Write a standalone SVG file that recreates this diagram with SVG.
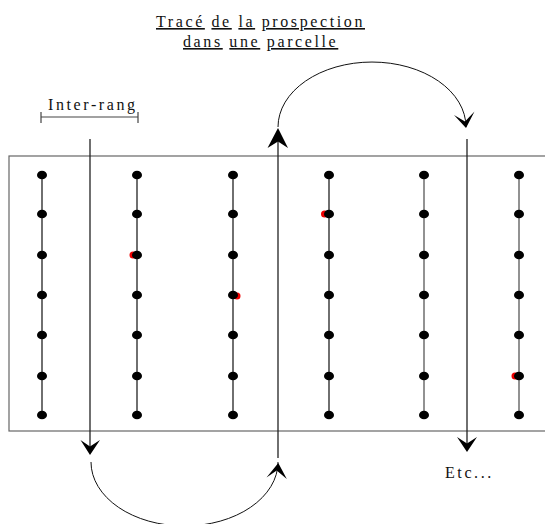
<svg xmlns="http://www.w3.org/2000/svg" width="545" height="524" viewBox="0 0 545 524">
<style>
.t{font-family:"Liberation Serif","Times New Roman",serif;font-size:16px;letter-spacing:2.6px;fill:#111}
.u{text-decoration:underline}
.row{stroke:#222;stroke-width:1.3}
.rowg{stroke:#777;stroke-width:1.6}
.dot{fill:#000}
.red{fill:#e00}
.ln{stroke:#222;stroke-width:1.3;fill:none}
.arc{stroke:#111;stroke-width:1;fill:none}
.ah{fill:#000}
</style>
<rect width="545" height="524" fill="#fff"/>
<g id="title">
<text class="t" x="156" y="27"><tspan class="u">Tracé</tspan> <tspan class="u">de</tspan> <tspan class="u">la</tspan> <tspan class="u">prospection</tspan></text>
<text class="t" x="183" y="47"><tspan class="u">dans</tspan> <tspan class="u">une</tspan> <tspan class="u">parcelle</tspan></text>
</g>
<g id="inter-rang">
<text class="t" x="48" y="110">Inter-rang</text>
<path d="M41,117H138M41,112V123M138,112V123" stroke="#444" stroke-width="1.2" fill="none"/>
</g>
<g id="parcelle">
<rect x="9" y="156" width="545" height="275" fill="none" stroke="#666" stroke-width="1.2"/>
</g>
<g id="rows">
<line class="row" x1="42" y1="175" x2="42" y2="415"/>
<line class="row" x1="137" y1="175" x2="137" y2="415"/>
<line class="row" x1="233" y1="175" x2="233" y2="415"/>
<line class="row" x1="329" y1="175" x2="329" y2="415"/>
<line class="rowg" x1="424" y1="175" x2="424" y2="415"/>
<line class="rowg" x1="519" y1="175" x2="519" y2="415"/>
<ellipse class="red" cx="133" cy="255" rx="3.5" ry="3.5"/>
<ellipse class="red" cx="237" cy="296" rx="3.5" ry="3.5"/>
<ellipse class="red" cx="324.5" cy="214" rx="3.5" ry="3.5"/>
<ellipse class="red" cx="515" cy="376" rx="3.5" ry="3.5"/>
<g class="dot">
<ellipse cx="42" cy="175" rx="5" ry="4.3"/><ellipse cx="42" cy="214" rx="5" ry="4.3"/><ellipse cx="42" cy="255" rx="5" ry="4.3"/><ellipse cx="42" cy="295" rx="5" ry="4.3"/><ellipse cx="42" cy="335" rx="5" ry="4.3"/><ellipse cx="42" cy="376" rx="5" ry="4.3"/><ellipse cx="42" cy="415" rx="5" ry="4.3"/>
<ellipse cx="137" cy="175" rx="5" ry="4.3"/><ellipse cx="137" cy="214" rx="5" ry="4.3"/><ellipse cx="137" cy="255" rx="5" ry="4.3"/><ellipse cx="137" cy="295" rx="5" ry="4.3"/><ellipse cx="137" cy="335" rx="5" ry="4.3"/><ellipse cx="137" cy="376" rx="5" ry="4.3"/><ellipse cx="137" cy="415" rx="5" ry="4.3"/>
<ellipse cx="233" cy="175" rx="5" ry="4.3"/><ellipse cx="233" cy="214" rx="5" ry="4.3"/><ellipse cx="233" cy="255" rx="5" ry="4.3"/><ellipse cx="233" cy="295" rx="5" ry="4.3"/><ellipse cx="233" cy="335" rx="5" ry="4.3"/><ellipse cx="233" cy="376" rx="5" ry="4.3"/><ellipse cx="233" cy="415" rx="5" ry="4.3"/>
<ellipse cx="329" cy="175" rx="5" ry="4.3"/><ellipse cx="329" cy="214" rx="5" ry="4.3"/><ellipse cx="329" cy="255" rx="5" ry="4.3"/><ellipse cx="329" cy="295" rx="5" ry="4.3"/><ellipse cx="329" cy="335" rx="5" ry="4.3"/><ellipse cx="329" cy="376" rx="5" ry="4.3"/><ellipse cx="329" cy="415" rx="5" ry="4.3"/>
<ellipse cx="424" cy="175" rx="5" ry="4.3"/><ellipse cx="424" cy="214" rx="5" ry="4.3"/><ellipse cx="424" cy="255" rx="5" ry="4.3"/><ellipse cx="424" cy="295" rx="5" ry="4.3"/><ellipse cx="424" cy="335" rx="5" ry="4.3"/><ellipse cx="424" cy="376" rx="5" ry="4.3"/><ellipse cx="424" cy="415" rx="5" ry="4.3"/>
<ellipse cx="519" cy="175" rx="5" ry="4.3"/><ellipse cx="519" cy="214" rx="5" ry="4.3"/><ellipse cx="519" cy="255" rx="5" ry="4.3"/><ellipse cx="519" cy="295" rx="5" ry="4.3"/><ellipse cx="519" cy="335" rx="5" ry="4.3"/><ellipse cx="519" cy="376" rx="5" ry="4.3"/><ellipse cx="519" cy="415" rx="5" ry="4.3"/>
</g>
</g>
<g id="connectors">
<line class="ln" x1="90" y1="139" x2="90" y2="450"/>
<line class="ln" x1="278" y1="458" x2="278" y2="134"/>
<line class="ln" x1="467" y1="139" x2="467" y2="446"/>
<path class="arc" d="M278,127 A94,65 0 0 1 466,127"/>
<path class="arc" d="M91,462 A93.5,64 0 0 0 278,462"/>
<path class="ah" d="M90,455 L80.5,440 L90,446.5 L100,440 Z"/>
<path class="ah" d="M278,128 L267.5,148 L278,141.5 L288,148 Z"/>
<path class="ah" d="M466,128 L454,115 L465,121.5 L474.5,111.5 Z"/>
<path class="ah" d="M278.3,463 L266.5,477.5 L276.7,470.5 L286.8,479 Z"/>
<path class="ah" d="M467,452 L457,437 L467,443.5 L477,437 Z"/>
</g>
<g id="etc">
<text class="t" x="445" y="478">Etc...</text>
</g>
</svg>
